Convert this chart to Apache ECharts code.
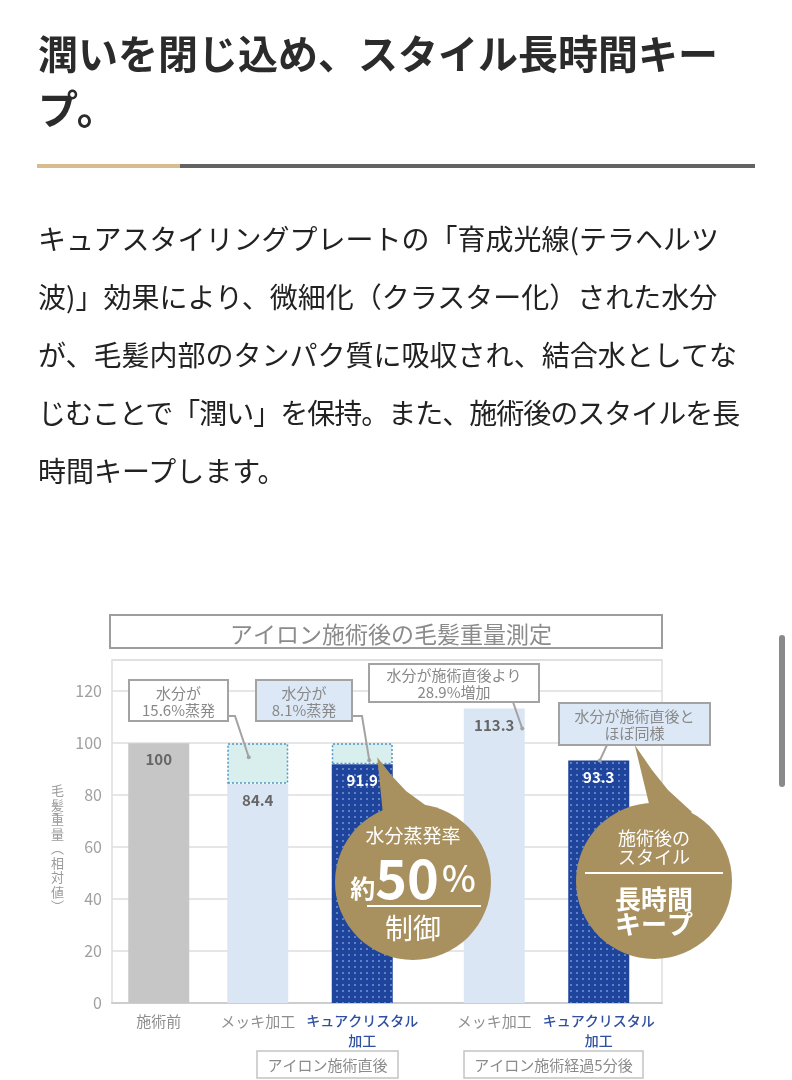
<!DOCTYPE html>
<html>
<head>
<meta charset="utf-8">
<script src="https://cdn.jsdelivr.net/npm/echarts@6/dist/echarts.min.js"></script>
<style>
html,body{margin:0;padding:0;background:#fff;width:792px;height:1080px;overflow:hidden;}
#chart{position:absolute;left:0;top:0;width:792px;height:1080px;}
.head{position:absolute;left:38px;top:25px;font-family:"Noto Sans CJK JP",sans-serif;font-weight:700;font-size:40px;line-height:55px;color:#2b2b2b;white-space:nowrap;z-index:2;}
.rule1{position:absolute;left:37px;top:164px;width:143px;height:4px;background:#d6bc8e;z-index:2;}
.rule2{position:absolute;left:180px;top:164px;width:575px;height:4px;background:#636363;z-index:2;}
.para{position:absolute;left:38px;top:209px;font-family:"Noto Sans CJK JP",sans-serif;font-weight:400;font-size:28px;line-height:58px;color:#222;white-space:nowrap;z-index:2;}
.para span{display:block;}
.scroll{position:absolute;left:779px;top:635px;width:6px;height:152px;border-radius:3px;background:#8a8a8a;z-index:2;}
</style>
</head>
<body>
<div id="chart"></div>
<div class="head">潤いを閉じ込め、スタイル長時間キー<br>プ。</div>
<div class="rule1"></div><div class="rule2"></div>
<div class="para">
<span>キュアスタイリングプレートの「育成光線(テラヘルツ</span>
<span>波)」効果により、微細化（クラスター化）された水分</span>
<span>が、毛髪内部のタンパク質に吸収され、結合水としてな</span>
<span style="letter-spacing:-1px">じむことで「潤い」を保持。また、施術後のスタイルを長</span>
<span>時間キープします。</span>
</div>
<div class="scroll"></div>
<script>
// ---- data ----
const chartTitle = 'アイロン施術後の毛髪重量測定';
const categories = ['施術前', 'メッキ加工', 'キュアクリスタル\n加工', 'メッキ加工', 'キュアクリスタル\n加工'];
const weights = [100, 84.4, 91.9, 113.3, 93.3];
const baseline = 100;
const yTicks = [0, 20, 40, 60, 80, 100, 120];
const yName = '毛髪重量(相対値)';
const groupLabels = ['アイロン施術直後', 'アイロン施術経過5分後'];
const evapIndex = [1, 2];

// ---- layout / style (not data) ----
const FONT = '"Noto Sans CJK JP","Noto Sans",sans-serif';
const SLOTS = 100;
const slotOf = [8, 26, 45, 69, 88];
const kind = ['pre', 'plate', 'cure', 'plate', 'cure'];
const fills = { pre: '#c6c6c6', plate: '#dbe6f5', cure: '#1e449c' };
const labelColors = { pre: '#666', plate: '#666', cure: '#fff' };
const GOLD = '#a8915f';

const xData = Array.from({ length: SLOTS }, () => '');
slotOf.forEach((s, i) => { xData[s] = categories[i]; });

const baseData = Array.from({ length: SLOTS }, () => '-');
weights.forEach((v, i) => {
  const k = kind[i];
  const item = { value: v, itemStyle: { color: fills[k] }, label: { color: labelColors[k] } };
  if (k === 'cure') {
    item.itemStyle.decal = { symbol: 'rect', symbolSize: 1, dashArrayX: [[2, 3.5]], dashArrayY: [2, 3.5], color: 'rgba(140,170,230,0.6)' };
  }
  baseData[slotOf[i]] = item;
});
const evapData = Array.from({ length: SLOTS }, () => '-');
evapIndex.forEach(i => { evapData[slotOf[i]] = +(baseline - weights[i]).toFixed(1); });

const yAxisName = '{s| }\n' + yName.replace('(', '︵').replace(')', '︶').split('').map(c => '{n|' + c + '}').join('\n');
const step = yTicks[1] - yTicks[0];

const chart = echarts.init(document.getElementById('chart'));
chart.setOption({
  animation: false,
  title: {
    text: chartTitle, left: 386, top: 618, textAlign: 'center',
    textStyle: { fontFamily: FONT, fontSize: 23, fontWeight: 'normal', color: '#8b8b8b' }
  },
  grid: { left: 112, right: 130, top: 660, bottom: 77, show: true, borderColor: '#dedede', borderWidth: 1.5, backgroundColor: 'transparent' },
  xAxis: {
    type: 'category', data: xData,
    axisLine: { show: true, lineStyle: { color: '#cdcdcd', width: 2 } },
    axisTick: { show: false },
    axisLabel: {
      interval: 0, margin: 8,
      formatter: v => {
        if (!v) return '';
        if (v.indexOf('キュア') === 0) return v.split('\n').map(l => '{c|' + l + '}').join('\n');
        return '{g|' + v + '}';
      },
      rich: {
        g: { color: '#8e8e8e', fontSize: 15, lineHeight: 20, fontFamily: FONT },
        c: { color: '#2f4f9f', fontSize: 14, lineHeight: 20, fontFamily: FONT, fontWeight: 500 }
      }
    }
  },
  yAxis: {
    type: 'value', min: yTicks[0], max: 132, interval: step,
    name: yAxisName, nameLocation: 'middle', nameRotate: 0, nameGap: 48,
    nameTextStyle: {
      rich: {
        s: { fontSize: 10, lineHeight: 34 },
        n: { color: '#9b9b9b', fontSize: 13, lineHeight: 14.5, fontFamily: FONT }
      }
    },
    axisLine: { show: false }, axisTick: { show: false },
    axisLabel: {
      color: '#a0a0a0', fontSize: 16, fontFamily: FONT, margin: 10, showMaxLabel: false,
      formatter: v => (yTicks.indexOf(v) >= 0 ? String(v) : '')
    },
    splitLine: { lineStyle: { color: '#dedede', width: 1.5 } }
  },
  series: [
    {
      type: 'bar', stack: 'w', barWidth: 61, data: baseData,
      label: {
        show: true, position: 'insideTop', distance: 9, fontSize: 15, fontWeight: 'bold', fontFamily: FONT,
        formatter: p => String(p.value)
      }
    },
    {
      type: 'bar', stack: 'w', barWidth: 61, data: evapData,
      itemStyle: { color: '#d9efee', borderColor: '#4f97c6', borderWidth: 1.5, borderType: [2, 2] }
    }
  ]
});

// ---- annotations ----
const px = (i, v) => chart.convertToPixel({ gridIndex: 0 }, [slotOf[i], v]);
const G = [];
function box(x, y, w, h, fill, text) {
  G.push({ type: 'rect', z: 100, shape: { x, y, width: w, height: h }, style: { fill, stroke: '#a3a3a3', lineWidth: 2 } });
  G.push({ type: 'text', z: 101, x: x + w / 2, y: y + h / 2 + 1, style: { text, fill: '#888', fontSize: 15, fontFamily: FONT, align: 'center', verticalAlign: 'middle', lineHeight: 17 } });
}
function leader(points) {
  G.push({ type: 'polyline', z: 99, shape: { points }, style: { stroke: '#a3a3a3', lineWidth: 2, fill: null } });
  const e = points[points.length - 1];
  G.push({ type: 'circle', z: 99, shape: { cx: e[0], cy: e[1], r: 2 }, style: { fill: '#a3a3a3' } });
}

// title frame
G.push({ type: 'rect', z: 1, shape: { x: 110, y: 615, width: 552, height: 33 }, style: { fill: 'none', stroke: '#9d9d9d', lineWidth: 2 } });

const pBase2 = px(1, baseline), pBase3 = px(2, baseline);
const pTop3 = px(2, weights[2]), pTop4 = px(3, weights[3]), pTop5 = px(4, weights[4]);

leader([[228, 716], [235, 716], [pBase2[0] - 9, pBase2[1] + 14]]);
box(129, 680, 99, 41, '#ffffff', '水分が\n' + (baseline - weights[1]).toFixed(1) + '%蒸発');

leader([[352, 716], [362, 716], [pTop3[0] + 7, pTop3[1] - 4]]);
box(256, 680, 96, 41, '#dce8f6', '水分が\n' + (baseline - weights[2]).toFixed(1) + '%蒸発');

leader([[513, 702], [pTop4[0] + 28, pTop4[1] + 20]]);
box(369, 664, 170, 38, '#ffffff', '水分が施術直後より\n' + (weights[3] - weights[1]).toFixed(1) + '%増加');

leader([[607, 745], [pTop5[0] + 1, pTop5[1]]]);
box(559, 703, 151, 42, '#dce8f6', '水分が施術直後と\nほぼ同様');

// gold bubble 1
const tip1 = [pBase3[0] + 15, pBase3[1] + 14];
G.push({ type: 'polygon', z: 110, shape: { points: [tip1, [392, 776], [406, 791], [428, 807], [400, 835], [383, 815]] }, style: { fill: GOLD } });
G.push({ type: 'circle', z: 110, shape: { cx: 413, cy: 882, r: 78 }, style: { fill: GOLD } });
G.push({ type: 'text', z: 111, x: 413, y: 836, style: { text: '水分蒸発率', fill: '#fff', fontSize: 19, fontFamily: FONT, align: 'center', verticalAlign: 'middle' } });
G.push({ type: 'text', z: 111, x: 413, y: 878, style: {
  text: '{a|約}{b|50}{c|%}', align: 'center', verticalAlign: 'middle',
  rich: {
    a: { fill: '#fff', fontSize: 25, fontWeight: 'bold', fontFamily: FONT, verticalAlign: 'bottom', padding: [0, 0, 4, 0] },
    b: { fill: '#fff', fontSize: 54, fontWeight: 'bold', fontFamily: FONT },
    c: { fill: '#fff', fontSize: 36, fontWeight: 500, fontFamily: FONT, padding: [0, 0, 0, 3] }
  } } });
G.push({ type: 'line', z: 111, shape: { x1: 367, y1: 906, x2: 481, y2: 906 }, style: { stroke: '#fff', lineWidth: 2 } });
G.push({ type: 'text', z: 111, x: 413, y: 928, style: { text: '制御', fill: '#fff', fontSize: 28, fontFamily: FONT, align: 'center', verticalAlign: 'middle' } });

// gold bubble 2
const tip2 = [pTop5[0] + 36, 745];
G.push({ type: 'polygon', z: 110, shape: { points: [tip2, [652, 770], [668, 790], [692, 812], [662, 835], [650, 808]] }, style: { fill: GOLD } });
G.push({ type: 'circle', z: 110, shape: { cx: 654, cy: 881, r: 78 }, style: { fill: GOLD } });
G.push({ type: 'text', z: 111, x: 654, y: 848, style: { text: '施術後の\nスタイル', fill: '#fff', fontSize: 18, lineHeight: 19, fontFamily: FONT, align: 'center', verticalAlign: 'middle' } });
G.push({ type: 'line', z: 111, shape: { x1: 585, y1: 873, x2: 723, y2: 873 }, style: { stroke: '#fff', lineWidth: 2 } });
G.push({ type: 'text', z: 111, x: 654, y: 912, style: { text: '長時間\nキープ', fill: '#fff', fontSize: 26, lineHeight: 25, fontWeight: 'bold', fontFamily: FONT, align: 'center', verticalAlign: 'middle' } });

// group boxes
function groupBox(x, y, w, h, text) {
  G.push({ type: 'rect', z: 100, shape: { x, y, width: w, height: h }, style: { fill: '#fff', stroke: '#c4c4c4', lineWidth: 1.5 } });
  G.push({ type: 'text', z: 101, x: x + w / 2, y: y + h / 2 + 1, style: { text, fill: '#8a8a8a', fontSize: 15, fontFamily: FONT, align: 'center', verticalAlign: 'middle' } });
}
groupBox(257, 1051, 141, 27, groupLabels[0]);
groupBox(464, 1051, 179, 27, groupLabels[1]);

chart.setOption({ graphic: G });
</script>
</body>
</html>
